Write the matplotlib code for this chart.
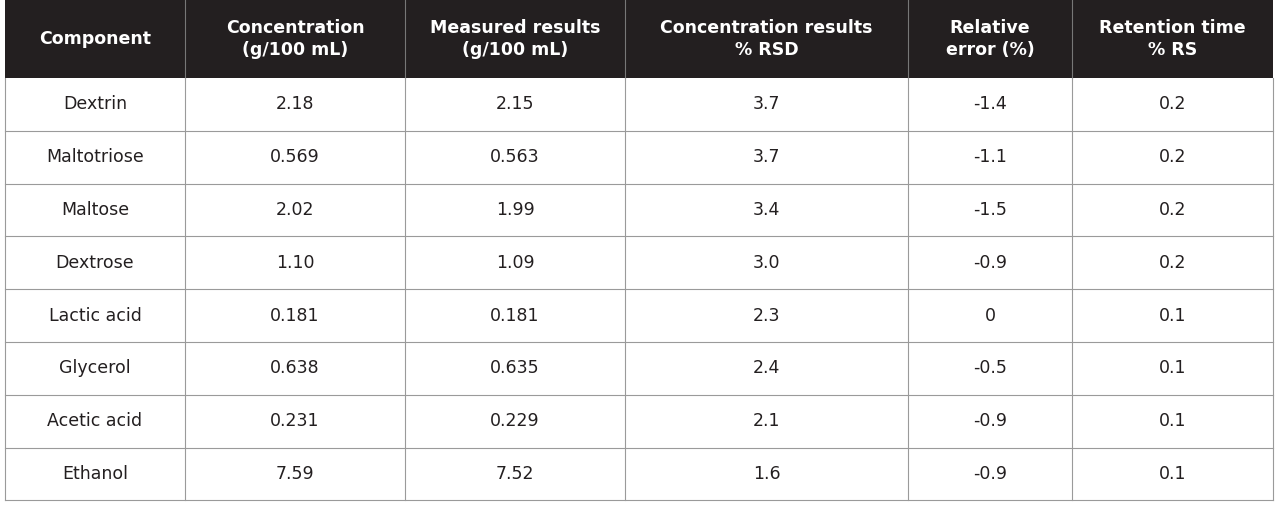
import matplotlib.pyplot as plt
import matplotlib.patches as mpatches

headers = ["Component", "Concentration\n(g/100 mL)", "Measured results\n(g/100 mL)",
           "Concentration results\n% RSD", "Relative\nerror (%)", "Retention time\n% RS"]
components = ["Dextrin", "Maltotriose", "Maltose", "Dextrose", "Lactic acid",
              "Glycerol", "Acetic acid", "Ethanol"]
concentration = ["2.18", "0.569", "2.02", "1.10", "0.181", "0.638", "0.231", "7.59"]
measured = ["2.15", "0.563", "1.99", "1.09", "0.181", "0.635", "0.229", "7.52"]
rsd = ["3.7", "3.7", "3.4", "3.0", "2.3", "2.4", "2.1", "1.6"]
rel_error = ["-1.4", "-1.1", "-1.5", "-0.9", "0", "-0.5", "-0.9", "-0.9"]
retention = ["0.2", "0.2", "0.2", "0.2", "0.1", "0.1", "0.1", "0.1"]

col_x = [5, 185, 405, 625, 908, 1072, 1273]
head_h = 78
row_h = 52.8

fig = plt.figure(figsize=(12.8, 5.07), dpi=100)
ax = fig.add_axes([0, 0, 1, 1])
ax.set_xlim(0, 1280)
ax.set_ylim(507, 0)
ax.axis("off")

# header
ax.add_patch(mpatches.Rectangle((col_x[0], 0), col_x[-1] - col_x[0], head_h,
                                facecolor="#231f20", edgecolor="none"))
for j, h in enumerate(headers):
    ax.text((col_x[j] + col_x[j + 1]) / 2, head_h / 2, h, ha="center", va="center",
            color="white", fontsize=12.5, fontweight="bold", linespacing=1.35)
for x in col_x[1:-1]:
    ax.plot([x, x], [0, head_h], color="#777777", lw=0.8)

cols = [components, concentration, measured, rsd, rel_error, retention]
n = len(components)
bottom = head_h + n * row_h
for i in range(n):
    yc = head_h + (i + 0.5) * row_h
    for j, c in enumerate(cols):
        ax.text((col_x[j] + col_x[j + 1]) / 2, yc, c[i], ha="center", va="center",
                color="#231f20", fontsize=12.5)
    ax.plot([col_x[0], col_x[-1]], [head_h + (i + 1) * row_h] * 2, color="#9a9a9a", lw=0.8)
for x in col_x:
    ax.plot([x, x], [head_h, bottom], color="#9a9a9a", lw=0.8)

fig.savefig("out.png", dpi=100)
